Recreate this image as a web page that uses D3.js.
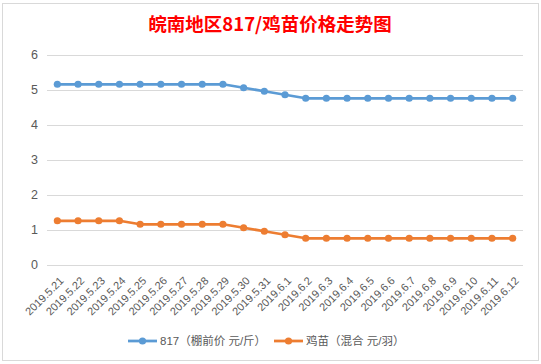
<!DOCTYPE html>
<html><head><meta charset="utf-8">
<script src="https://cdn.jsdelivr.net/npm/d3@7"></script>
<style>body{margin:0;background:#fff}svg{display:block}</style>
</head><body>
<svg id="c" width="541" height="364"></svg>
<script>
const title = "皖南地区817/鸡苗价格走势图";
const categories = ["2019.5.21","2019.5.22","2019.5.23","2019.5.24","2019.5.25","2019.5.26","2019.5.27","2019.5.28","2019.5.29","2019.5.30","2019.5.31","2019.6.1","2019.6.2","2019.6.3","2019.6.4","2019.6.5","2019.6.6","2019.6.7","2019.6.8","2019.6.9","2019.6.10","2019.6.11","2019.6.12"];
const seriesNames = ["817（棚前价 元/斤）","鸡苗（混合 元/羽）"];
const price817 = [5.15,5.15,5.15,5.15,5.15,5.15,5.15,5.15,5.15,5.05,4.95,4.85,4.75,4.75,4.75,4.75,4.75,4.75,4.75,4.75,4.75,4.75,4.75];
const chickPrice = [1.25,1.25,1.25,1.25,1.15,1.15,1.15,1.15,1.15,1.05,0.95,0.85,0.75,0.75,0.75,0.75,0.75,0.75,0.75,0.75,0.75,0.75,0.75];
const yTicks = [0,1,2,3,4,5,6];
const colors = ["#5B9BD5","#ED7D31"];

const svg = d3.select("#c");
const font = "'Liberation Sans','Noto Sans CJK SC',sans-serif";
// outer frame
svg.append("rect").attr("x",2.5).attr("y",3.5).attr("width",536).attr("height",357)
  .attr("fill","#fff").attr("stroke","#d9d9d9");

const L=47, R=523, T=54.5, B=264.5;
const x = d3.scaleBand().domain(categories).range([L,R]);
const y = d3.scaleLinear().domain([0,6]).range([B,T]);

// grid
svg.append("g").selectAll("line").data(yTicks).join("line")
  .attr("x1",L).attr("x2",R).attr("y1",d=>Math.round(y(d))+0.5).attr("y2",d=>Math.round(y(d))+0.5)
  .attr("stroke","#d9d9d9").attr("stroke-width",1);

// y axis
const yAxis = d3.axisLeft(y).tickValues(yTicks).tickFormat(d3.format("d")).tickSize(0).tickPadding(0);
const gy = svg.append("g").attr("transform",`translate(${L-9},0)`).call(yAxis);
gy.select(".domain").remove();
gy.selectAll("text").attr("fill","#595959").style("font-family",font).style("font-size","12.5px");

// x axis
const xAxis = d3.axisBottom(x).tickSize(0).tickPadding(0);
const gx = svg.append("g").attr("transform",`translate(0,${B})`).call(xAxis);
gx.select(".domain").remove();
gx.selectAll("text").attr("fill","#595959").style("font-family",font).style("font-size","11px")
  .attr("text-anchor","end").attr("dy",0).attr("y",0)
  .attr("transform","translate(7,17) rotate(-45)");

// lines
const cx = d => x(d) + x.bandwidth()/2;
[price817, chickPrice].forEach((vals,i)=>{
  const pts = vals.map((v,j)=>[cx(categories[j]), y(v)]);
  svg.append("path").attr("d", d3.line()(pts)).attr("fill","none")
    .attr("stroke",colors[i]).attr("stroke-width",2.75).attr("stroke-linejoin","round");
  svg.append("g").selectAll("circle").data(pts).join("circle")
    .attr("cx",d=>d[0]).attr("cy",d=>d[1]).attr("r",3.6).attr("fill",colors[i]);
});

// title
svg.append("text").attr("x",270).attr("y",31).attr("text-anchor","middle")
  .attr("fill","#ff0000").style("font-family","'Noto Sans CJK SC',sans-serif")
  .style("font-weight","bold").style("font-size","18.5px").text(title);

// legend
const legX = [128, 274];
seriesNames.forEach((n,i)=>{
  const g = svg.append("g").attr("transform",`translate(${legX[i]},341)`);
  g.append("line").attr("x1",0).attr("x2",29).attr("stroke",colors[i]).attr("stroke-width",2.75);
  g.append("circle").attr("cx",14.5).attr("r",3.6).attr("fill",colors[i]);
  g.append("text").attr("x",32).attr("dy","0.35em").attr("fill","#595959")
    .style("font-family",font).style("font-size","11.5px").text(n);
});
</script>
</body></html>
